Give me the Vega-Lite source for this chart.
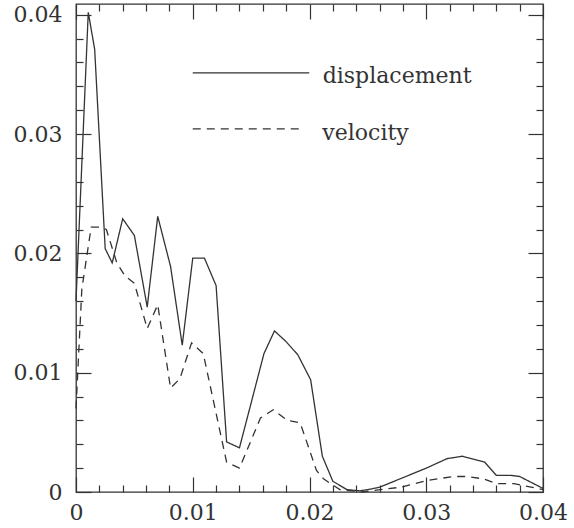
{
  "$schema": "https://vega.github.io/schema/vega-lite/v6.json",
  "width": 467,
  "height": 488,
  "autosize": {"type": "none"},
  "padding": {"left": 76, "top": 4, "right": 31, "bottom": 36},
  "background": "white",
  "config": {
    "view": {"stroke": "#333", "strokeWidth": 1.3},
    "axis": {
      "domain": false,
      "grid": false,
      "title": null,
      "tickColor": "#333",
      "tickWidth": 1.2,
      "labelFont": "DejaVu Serif",
      "labelFontSize": 22,
      "labelColor": "#333",
      "labelFlush": false,
      "labelOverlap": false,
      "labelBound": false
    }
  },
  "datasets": {
    "curves": [
      {"series": "displacement", "x": 0, "y": 0.016},
      {"series": "displacement", "x": 0.00105, "y": 0.0402},
      {"series": "displacement", "x": 0.0016, "y": 0.0371},
      {"series": "displacement", "x": 0.0025, "y": 0.0204},
      {"series": "displacement", "x": 0.0031, "y": 0.0192},
      {"series": "displacement", "x": 0.004, "y": 0.0229},
      {"series": "displacement", "x": 0.005, "y": 0.0215},
      {"series": "displacement", "x": 0.0061, "y": 0.0155},
      {"series": "displacement", "x": 0.007, "y": 0.0231},
      {"series": "displacement", "x": 0.0081, "y": 0.0189},
      {"series": "displacement", "x": 0.0091, "y": 0.0123},
      {"series": "displacement", "x": 0.01, "y": 0.0196},
      {"series": "displacement", "x": 0.011, "y": 0.0196},
      {"series": "displacement", "x": 0.012, "y": 0.0173},
      {"series": "displacement", "x": 0.0129, "y": 0.0042},
      {"series": "displacement", "x": 0.014, "y": 0.0037},
      {"series": "displacement", "x": 0.0161, "y": 0.0116},
      {"series": "displacement", "x": 0.017, "y": 0.0135},
      {"series": "displacement", "x": 0.018, "y": 0.0126},
      {"series": "displacement", "x": 0.019, "y": 0.0115},
      {"series": "displacement", "x": 0.0201, "y": 0.0094},
      {"series": "displacement", "x": 0.0211, "y": 0.003},
      {"series": "displacement", "x": 0.022, "y": 0.0009},
      {"series": "displacement", "x": 0.0232, "y": 0.0002},
      {"series": "displacement", "x": 0.0243, "y": 0.0001},
      {"series": "displacement", "x": 0.025, "y": 0.0002},
      {"series": "displacement", "x": 0.026, "y": 0.0004},
      {"series": "displacement", "x": 0.028, "y": 0.0012},
      {"series": "displacement", "x": 0.03, "y": 0.002},
      {"series": "displacement", "x": 0.0318, "y": 0.0028},
      {"series": "displacement", "x": 0.0331, "y": 0.003},
      {"series": "displacement", "x": 0.035, "y": 0.0025},
      {"series": "displacement", "x": 0.036, "y": 0.0014},
      {"series": "displacement", "x": 0.0372, "y": 0.0014},
      {"series": "displacement", "x": 0.038, "y": 0.0013},
      {"series": "displacement", "x": 0.04, "y": 0.0003},
      {"series": "velocity", "x": 0, "y": 0.007},
      {"series": "velocity", "x": 0.0005, "y": 0.017},
      {"series": "velocity", "x": 0.0013, "y": 0.0222},
      {"series": "velocity", "x": 0.002, "y": 0.0222},
      {"series": "velocity", "x": 0.0026, "y": 0.022},
      {"series": "velocity", "x": 0.0035, "y": 0.0192},
      {"series": "velocity", "x": 0.0042, "y": 0.0181},
      {"series": "velocity", "x": 0.005, "y": 0.0175},
      {"series": "velocity", "x": 0.0061, "y": 0.0137},
      {"series": "velocity", "x": 0.007, "y": 0.0157},
      {"series": "velocity", "x": 0.0081, "y": 0.0087},
      {"series": "velocity", "x": 0.0089, "y": 0.0095},
      {"series": "velocity", "x": 0.0099, "y": 0.0125},
      {"series": "velocity", "x": 0.0109, "y": 0.0116},
      {"series": "velocity", "x": 0.0129, "y": 0.0025},
      {"series": "velocity", "x": 0.014, "y": 0.002},
      {"series": "velocity", "x": 0.0158, "y": 0.0062},
      {"series": "velocity", "x": 0.0169, "y": 0.0069},
      {"series": "velocity", "x": 0.0181, "y": 0.006},
      {"series": "velocity", "x": 0.0192, "y": 0.0058},
      {"series": "velocity", "x": 0.0206, "y": 0.0018},
      {"series": "velocity", "x": 0.0212, "y": 0.0011},
      {"series": "velocity", "x": 0.0226, "y": 0.0002},
      {"series": "velocity", "x": 0.0245, "y": 0.0},
      {"series": "velocity", "x": 0.0278, "y": 0.0004},
      {"series": "velocity", "x": 0.03, "y": 0.00095},
      {"series": "velocity", "x": 0.0323, "y": 0.0013},
      {"series": "velocity", "x": 0.0335, "y": 0.0013},
      {"series": "velocity", "x": 0.0349, "y": 0.0011},
      {"series": "velocity", "x": 0.036, "y": 0.0007},
      {"series": "velocity", "x": 0.0375, "y": 0.0007},
      {"series": "velocity", "x": 0.04, "y": 0.0002}
    ],
    "legendLines": [
      {"series": "displacement", "x": 0.01, "y": 0.03512},
      {"series": "displacement", "x": 0.01998, "y": 0.03512},
      {"series": "velocity", "x": 0.01, "y": 0.03043},
      {"series": "velocity", "x": 0.01953, "y": 0.03043}
    ],
    "legendText": [
      {"label": "displacement", "x": 0.02113, "y": 0.03428},
      {"label": "velocity", "x": 0.0211, "y": 0.02953}
    ]
  },
  "layer": [
    {
      "data": {"name": "curves"},
      "mark": {"type": "line", "color": "#333", "strokeWidth": 1.3},
      "encoding": {
        "x": {
          "field": "x", "type": "quantitative",
          "scale": {"domain": [0, 0.04], "nice": false, "zero": false},
          "axis": {
            "orient": "bottom",
            "values": [0,0.002,0.004,0.006,0.008,0.01,0.012,0.014,0.016,0.018,0.02,0.022,0.024,0.026,0.028,0.03,0.032,0.034,0.036,0.038,0.04],
            "tickSize": {"condition": {"test": "abs(datum.value*100 - round(datum.value*100)) < 1e-6", "value": -15}, "value": -7},
            "labelPadding": 25,
            "labelExpr": "abs(datum.value*100 - round(datum.value*100)) < 1e-6 ? (datum.value == 0 ? '0' : format(datum.value, '.2f')) : ''"
          }
        },
        "y": {
          "field": "y", "type": "quantitative",
          "scale": {"domain": [0, 0.0409], "nice": false, "zero": false},
          "axis": {
            "orient": "left",
            "values": [0,0.002,0.004,0.006,0.008,0.01,0.012,0.014,0.016,0.018,0.02,0.022,0.024,0.026,0.028,0.03,0.032,0.034,0.036,0.038,0.04],
            "tickSize": {"condition": {"test": "abs(datum.value*100 - round(datum.value*100)) < 1e-6", "value": -15}, "value": -7},
            "labelPadding": 29,
            "labelExpr": "abs(datum.value*100 - round(datum.value*100)) < 1e-6 ? (datum.value == 0 ? '0' : format(datum.value, '.2f')) : ''"
          }
        },
        "strokeDash": {
          "field": "series", "type": "nominal",
          "scale": {"domain": ["displacement", "velocity"], "range": [[1, 0], [8, 6]]},
          "legend": null
        }
      }
    },
    {
      "data": {"name": "legendLines"},
      "mark": {"type": "line", "color": "#333", "strokeWidth": 1.3},
      "encoding": {
        "x": {
          "field": "x", "type": "quantitative",
          "axis": {
            "orient": "top",
            "values": [0,0.002,0.004,0.006,0.008,0.01,0.012,0.014,0.016,0.018,0.02,0.022,0.024,0.026,0.028,0.03,0.032,0.034,0.036,0.038,0.04],
            "tickSize": {"condition": {"test": "abs(datum.value*100 - round(datum.value*100)) < 1e-6", "value": -15}, "value": -7},
            "labels": false
          }
        },
        "y": {
          "field": "y", "type": "quantitative",
          "axis": {
            "orient": "right",
            "values": [0,0.002,0.004,0.006,0.008,0.01,0.012,0.014,0.016,0.018,0.02,0.022,0.024,0.026,0.028,0.03,0.032,0.034,0.036,0.038,0.04],
            "tickSize": {"condition": {"test": "abs(datum.value*100 - round(datum.value*100)) < 1e-6", "value": -15}, "value": -7},
            "labels": false
          }
        },
        "strokeDash": {
          "field": "series", "type": "nominal",
          "scale": {"domain": ["displacement", "velocity"], "range": [[1, 0], [8, 6]]},
          "legend": null
        }
      }
    },
    {
      "data": {"name": "legendText"},
      "mark": {"type": "text", "align": "left", "baseline": "alphabetic", "font": "DejaVu Serif", "fontSize": 22, "color": "#333"},
      "encoding": {
        "x": {"field": "x", "type": "quantitative", "axis": null},
        "y": {"field": "y", "type": "quantitative", "axis": null},
        "text": {"field": "label"}
      }
    }
  ],
  "resolve": {"axis": {"x": "independent", "y": "independent"}}
}
